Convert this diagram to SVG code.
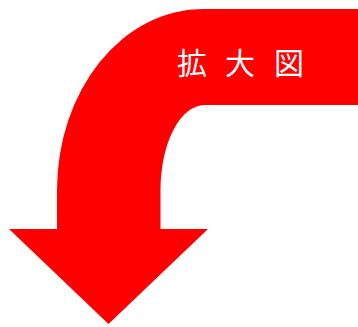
<svg xmlns="http://www.w3.org/2000/svg" width="358" height="327" viewBox="0 0 358 327">
<style>
.arrow{fill:#ff0000;stroke:none}
.lbl{fill:#ffffff;font-family:"Noto Sans CJK JP","Noto Sans CJK SC",sans-serif;font-size:30px;text-anchor:middle}
</style>
<rect width="358" height="327" fill="#ffffff"/>
<g id="arrow">
<path class="arrow" d="M358,9 L203,9 A146,181 0 0 0 57,190 L57,229 L9,229 L108.5,324 L208,229 L160.5,229 L160.5,190 A44,85 0 0 1 204.5,105 L358,105 Z"/>
</g>
<g id="label">
<text class="lbl" x="192" y="74">拡</text>
<text class="lbl" x="240" y="74">大</text>
<text class="lbl" x="289" y="74">図</text>
</g>
</svg>
